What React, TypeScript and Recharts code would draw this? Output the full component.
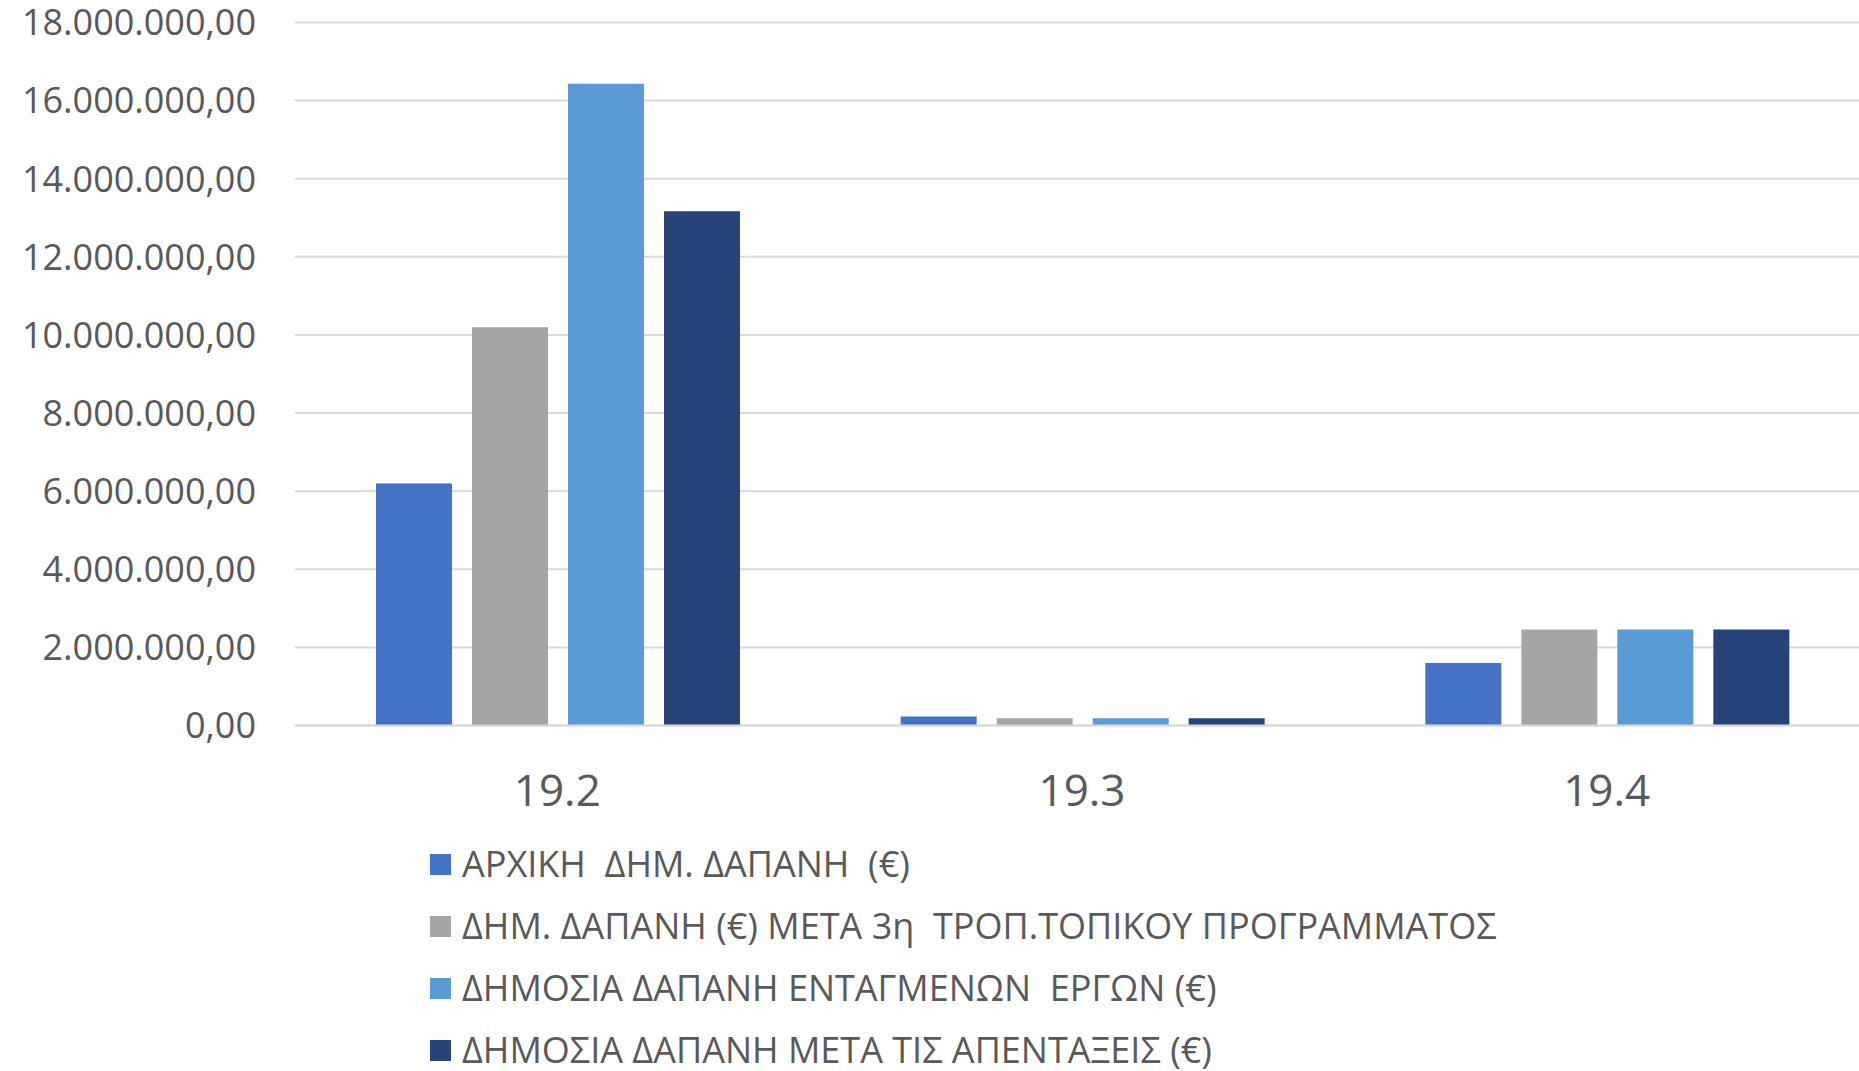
import React from 'react';
import { BarChart, Bar, XAxis, YAxis, CartesianGrid, Legend } from 'recharts';

const categories = ['19.2', '19.3', '19.4'];
const initialSpend = [6200000, 230000, 1600000];
const afterThirdAmendment = [10200000, 190000, 2460000];
const integratedProjects = [16430000, 190000, 2460000];
const afterRemovals = [13170000, 190000, 2460000];
const yTicks = [0, 2000000, 4000000, 6000000, 8000000, 10000000, 12000000, 14000000, 16000000, 18000000];

const SERIES = [
  { key: 'initial', name: 'ΑΡΧΙΚΗ  ΔΗΜ. ΔΑΠΑΝΗ  (€)', color: '#4472C4' },
  { key: 'amended', name: 'ΔΗΜ. ΔΑΠΑΝΗ (€) ΜΕΤΑ 3η  ΤΡΟΠ.ΤΟΠΙΚΟΥ ΠΡΟΓΡΑΜΜΑΤΟΣ', color: '#A5A5A5' },
  { key: 'integrated', name: 'ΔΗΜΟΣΙΑ ΔΑΠΑΝΗ ΕΝΤΑΓΜΕΝΩΝ  ΕΡΓΩΝ (€)', color: '#5B9BD5' },
  { key: 'removed', name: 'ΔΗΜΟΣΙΑ ΔΑΠΑΝΗ ΜΕΤΑ ΤΙΣ ΑΠΕΝΤΑΞΕΙΣ (€)', color: '#264478' },
];

const data = categories.map((c, i) => ({
  name: c,
  initial: initialSpend[i],
  amended: afterThirdAmendment[i],
  integrated: integratedProjects[i],
  removed: afterRemovals[i],
}));

// 18000000 -> "18.000.000,00"
const fmt = (v: number) => {
  const s = Math.round(v).toString().replace(/\B(?=(\d{3})+(?!\d))/g, '.');
  return s + ',00';
};

const FONT = "'Open Sans', 'DejaVu Sans', sans-serif";

const renderLegend = () => (
  <div style={{ fontFamily: FONT }}>
    {SERIES.map(s => (
      <div key={s.key} style={{ display: 'flex', alignItems: 'center', height: 62, lineHeight: '34px' }}>
        <span style={{ width: 21, height: 21, background: s.color, marginRight: 11, flexShrink: 0 }} />
        <span style={{ fontSize: 36, color: '#595959', whiteSpace: 'pre' }}>{s.name}</span>
      </div>
    ))}
  </div>
);

const App: React.FC = () => {
  return (
    <div style={{ position: 'absolute', top: 0, left: 0, width: 1859, height: 1071, overflow: 'hidden', background: '#fff' }}>
      <BarChart
        width={1859}
        height={1071}
        data={data}
        margin={{ top: 22.5, right: -10, bottom: 285.4, left: 0 }}
        barCategoryGap={81}
        barGap={20}
      >
        <CartesianGrid vertical={false} stroke="#d9d9d9" strokeWidth={2} />
        <XAxis
          dataKey="name"
          height={60}
          axisLine={{ stroke: '#d9d9d9', strokeWidth: 2 }}
          tickLine={false}
          tickMargin={43}
          tick={{ fontSize: 44, fill: '#595959', fontFamily: FONT }}
        />
        <YAxis
          width={295}
          domain={[0, 18000000]}
          ticks={yTicks}
          tickFormatter={fmt}
          axisLine={false}
          tickLine={false}
          tickMargin={33}
          tick={{ fontSize: 36, fill: '#595959', fontFamily: FONT }}
        />
        <Legend
          layout="vertical"
          align="center"
          verticalAlign="middle"
          content={renderLegend}
          wrapperStyle={{ left: 430, top: 833, width: 1400, height: 235, overflow: 'visible' }}
        />
        {SERIES.map(s => (
          <Bar key={s.key} dataKey={s.key} name={s.name} fill={s.color} isAnimationActive={false} />
        ))}
      </BarChart>
    </div>
  );
};

export default App;
